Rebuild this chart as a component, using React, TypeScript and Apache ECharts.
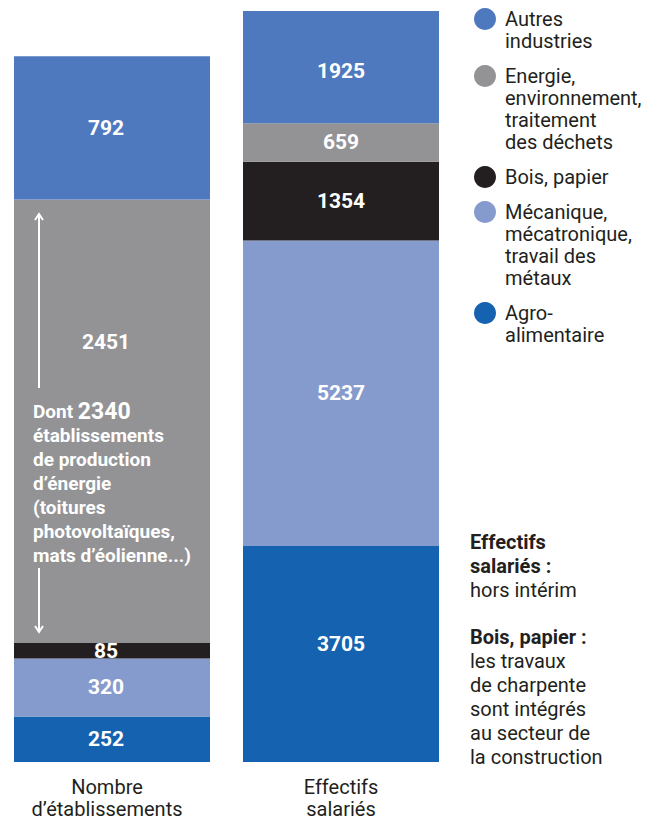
import React, { useEffect, useRef } from 'react';
import * as echarts from 'echarts';

// Sectors, listed from bottom of the stacks to the top
const sectorNames = [
  'Agro-\nalimentaire',
  'Mécanique,\nmécatronique,\ntravail des\nmétaux',
  'Bois, papier',
  'Energie,\nenvironnement,\ntraitement\ndes déchets',
  'Autres\nindustries',
];
const establishments = [252, 320, 85, 2451, 792];
const employees = [3705, 5237, 1354, 659, 1925];
const sectorColors = ['#1562b0', '#869bcd', '#231f20', '#939396', '#4f79be'];
const barTitles = ['Nombre\nd’établissements', 'Effectifs\nsalariés'];
const energyNoteLines = [
  'établissements',
  'de production',
  'd’énergie',
  '(toitures',
  'photovoltaïques,',
  'mats d’éolienne...)',
];
const energyNoteCount = 2340;
const noteEffectifsTitle = ['Effectifs', 'salariés :'];
const noteEffectifsBody = ['hors intérim'];
const noteBoisTitle = ['Bois, papier :'];
const noteBoisBody = ['les travaux', 'de charpente', 'sont intégrés', 'au secteur de', 'la construction'];

const COND = "Roboto, 'Noto Sans', sans-serif";
const REG = "Roboto, 'Noto Sans', sans-serif";
const DARK = '#231f20';

export default function App() {
  const ref = useRef<HTMLDivElement>(null);
  useEffect(() => {
    document.body.style.margin = '0';
    const chart = echarts.init(ref.current!, null, { renderer: 'svg' });

    const leftOffsets: Record<number, number> = { 3: -79 };
    const rightOffsets: Record<number, number> = { 0: -10, 4: 4 };
    const labelBase = {
      show: true,
      position: 'inside',
      color: '#ffffff',
      fontWeight: 'bold',
      fontSize: 21,
      fontFamily: COND,
    };
    const series: any[] = [];
    sectorNames.forEach((name, i) => {
      series.push({
        type: 'bar',
        name,
        xAxisIndex: 0,
        yAxisIndex: 0,
        stack: 'left',
        barWidth: '100%',
        itemStyle: { color: sectorColors[i] },
        label: { ...labelBase, offset: [-6, leftOffsets[i] || 0] },
        data: [establishments[i]],
      });
      series.push({
        type: 'bar',
        name,
        xAxisIndex: 1,
        yAxisIndex: 1,
        stack: 'right',
        barWidth: '100%',
        itemStyle: { color: sectorColors[i] },
        label: { ...labelBase, offset: [0, rightOffsets[i] || 0] },
        data: [employees[i]],
      });
    });

    const axisLabelBase = { fontSize: 20, lineHeight: 22, color: DARK, fontFamily: REG, margin: 14 };
    const xAxisCommon = {
      type: 'category',
      axisLine: { show: false },
      axisTick: { show: false },
    };
    const yAxisCommon = { type: 'value', min: 0, show: false, splitLine: { show: false } };

    // Legend (graphic), top to bottom
    const legendEls: any[] = [];
    let yCenter = 19;
    for (let k = sectorNames.length - 1; k >= 0; k--) {
      const lines = sectorNames[k].split('\n').length;
      legendEls.push({
        type: 'circle',
        z: 100,
        shape: { cx: 485, cy: yCenter, r: 11 },
        style: { fill: sectorColors[k] },
      });
      legendEls.push({
        type: 'text',
        z: 100,
        x: 505,
        y: yCenter - 11,
        style: {
          text: sectorNames[k],
          font: `20px ${REG}`,
          fill: DARK,
          lineHeight: 22,
          verticalAlign: 'top',
        },
      });
      yCenter += lines * 22 + 13;
    }

    const energyRich =
      `{a|Dont }{b|${energyNoteCount}}\n` + energyNoteLines.map((l) => `{a|${l}}`).join('\n');

    const noteText = (title: string[], body: string[]) =>
      title.map((t) => `{b|${t}}`).join('\n') + '\n' + body.map((t) => `{r|${t}}`).join('\n');
    const noteRich = {
      b: { fontFamily: REG, fontSize: 20, fontWeight: 'bold', fill: DARK, lineHeight: 24 },
      r: { fontFamily: REG, fontSize: 20, fill: DARK, lineHeight: 24 },
    };

    chart.setOption({
      animation: false,
      grid: [
        { left: 14, width: 196, top: 11, height: 751 },
        { left: 243, width: 196, top: 11, height: 751 },
      ],
      xAxis: [
        { ...xAxisCommon, gridIndex: 0, data: [barTitles[0]], axisLabel: { ...axisLabelBase, padding: [0, 10, 0, 0] } },
        { ...xAxisCommon, gridIndex: 1, data: [barTitles[1]], axisLabel: axisLabelBase },
      ],
      yAxis: [
        { ...yAxisCommon, gridIndex: 0, max: 4150 },
        { ...yAxisCommon, gridIndex: 1, max: 12880 },
      ],
      series,
      graphic: [
        // arrows in energy segment
        { type: 'line', z: 100, shape: { x1: 39, y1: 388, x2: 39, y2: 214 }, style: { stroke: '#fff', lineWidth: 2 } },
        { type: 'polyline', z: 100, shape: { points: [[35, 220], [39, 214], [43, 220]] }, style: { stroke: '#fff', lineWidth: 2, fill: null } },
        { type: 'line', z: 100, shape: { x1: 39, y1: 568, x2: 39, y2: 632 }, style: { stroke: '#fff', lineWidth: 2 } },
        { type: 'polyline', z: 100, shape: { points: [[35, 626], [39, 632], [43, 626]] }, style: { stroke: '#fff', lineWidth: 2, fill: null } },
        {
          type: 'text',
          z: 100,
          x: 33,
          y: 399,
          style: {
            text: energyRich,
            verticalAlign: 'top',
            rich: {
              a: { fontFamily: COND, fontSize: 19, fontWeight: 'bold', fill: '#fff', lineHeight: 24 },
              b: { fontFamily: COND, fontSize: 23, fontWeight: 'bold', fill: '#fff', lineHeight: 24 },
            },
          },
        },
        ...legendEls,
        {
          type: 'text',
          z: 100,
          x: 470,
          y: 530,
          style: { text: noteText(noteEffectifsTitle, noteEffectifsBody), verticalAlign: 'top', rich: noteRich },
        },
        {
          type: 'text',
          z: 100,
          x: 470,
          y: 625,
          style: { text: noteText(noteBoisTitle, noteBoisBody), verticalAlign: 'top', rich: noteRich },
        },
      ],
    });
    return () => chart.dispose();
  }, []);
  return <div ref={ref} style={{ width: 659, height: 820 }} />;
}
